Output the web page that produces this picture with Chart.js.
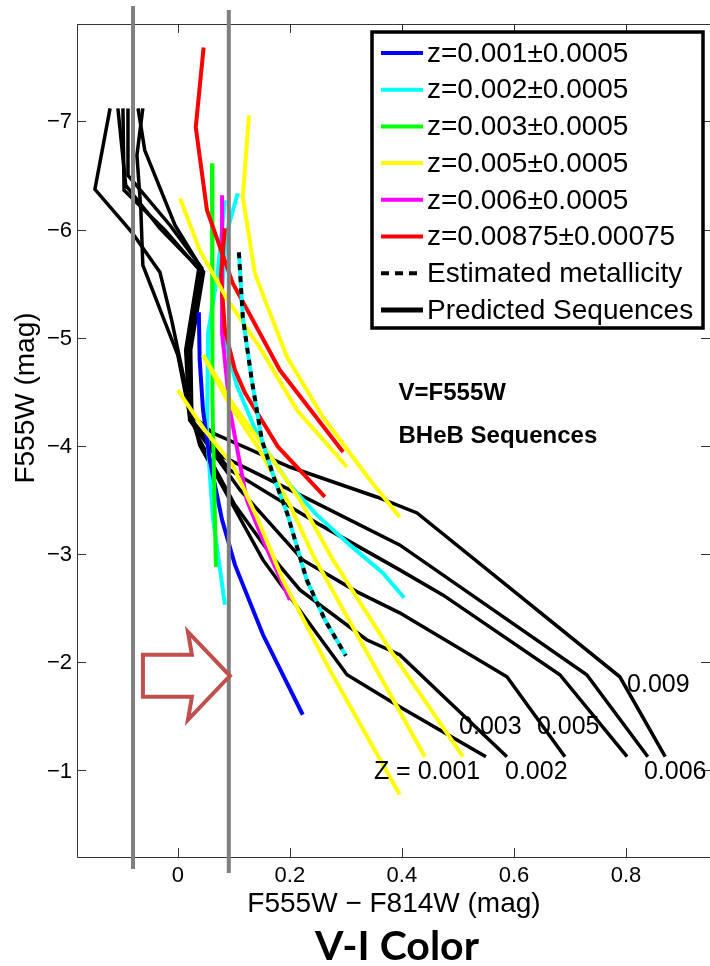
<!DOCTYPE html>
<html>
<head>
<meta charset="utf-8">
<script src="https://cdn.jsdelivr.net/npm/chart.js@4.4.0/dist/chart.umd.min.js"></script>
<style>
  body { margin: 0; background: #fff; }
  #wrap { width: 710px; height: 966px; position: relative; }
</style>
</head>
<body>
<div id="wrap"><canvas id="cmd"></canvas></div>
<script>
// axis ticks
const xTicks = [0, 0.2, 0.4, 0.6, 0.8];
const yTicks = [-7, -6, -5, -4, -3, -2, -1];

// predicted sequences (black)
const bk1X = [-0.121, -0.148, -0.082, -0.032, -0.011, 0.004, 0.025, 0.039, 0.093, 0.152, 0.2, 0.302, 0.396, 0.55];
const bk1Y = [-7.12, -6.372, -5.975, -5.606, -5.162, -4.793, -4.285, -4.008, -3.5, -2.946, -2.605, -1.885, -1.589, -1.127];
const bk2X = [-0.0625, -0.073, -0.066, -0.0625, 0, 0.021, 0.039, 0.102, 0.173, 0.218, 0.337, 0.396, 0.5875];
const bk2Y = [-7.12, -6.686, -6.178, -5.67, -4.839, -4.285, -4.054, -3.454, -2.946, -2.669, -2.208, -2.07, -1.127];
const bk3X = [-0.107, -0.093, -0.032, 0.0375, 0.014, 0.021, 0.034, 0.111, 0.223, 0.32, 0.396, 0.5875, 0.691];
const bk3Y = [-7.12, -6.409, -6.012, -5.643, -4.886, -4.239, -4.147, -3.593, -2.946, -2.651, -2.457, -1.866, -1.127];
const bk4X = [-0.098, -0.096, -0.023, 0.039, 0.016, 0.025, 0.03, 0.093, 0.254, 0.396, 0.473, 0.682, 0.802];
const bk4Y = [-7.12, -6.363, -5.994, -5.624, -4.886, -4.239, -4.193, -3.777, -3.27, -2.854, -2.623, -1.885, -1.127];
const bk5X = [-0.089, -0.089, -0.014, 0.043, 0.02, 0.025, 0.075, 0.218, 0.396, 0.73, 0.839];
const bk5Y = [-7.12, -6.501, -6.04, -5.643, -4.932, -4.239, -3.916, -3.547, -3.085, -1.885, -1.127];
const bk6X = [-0.071, -0.059, -0.005, 0.046, 0.023, 0.025, 0.0625, 0.2, 0.355, 0.427, 0.789, 0.87];
const bk6Y = [-7.12, -6.732, -6.04, -5.606, -4.886, -4.285, -4.119, -3.805, -3.528, -3.38, -1.866, -1.127];

// observed BHeB sequences
const blueX = [0.0375, 0.039, 0.045, 0.057, 0.079, 0.102, 0.152, 0.223];
const blueY = [-5.236, -4.793, -4.331, -3.87, -3.316, -2.9, -2.254, -1.515];
const cyan1X = [0.084, 0.071, 0.054, 0.052, 0.0625, 0.084];
const cyan1Y = [-6.271, -5.597, -5.042, -4.119, -3.343, -2.531];
const cyan2X = [0.107, 0.086, 0.079, 0.084, 0.105, 0.146, 0.2, 0.248, 0.307, 0.366, 0.404];
const cyan2Y = [-6.335, -5.947, -5.44, -4.978, -4.562, -4.054, -3.639, -3.362, -3.085, -2.826, -2.596];
const greenX = [0.061, 0.061, 0.0625, 0.068];
const greenY = [-6.612, -5.809, -4.424, -2.882];
const magX = [0.079, 0.079, 0.079, 0.093, 0.123, 0.152, 0.2];
const magY = [-6.317, -5.652, -5.042, -4.331, -3.5, -3.131, -2.577];
const redAX = [0.046, 0.032, 0.052, 0.098, 0.134, 0.182, 0.295];
const redAY = [-7.683, -6.945, -6.178, -5.504, -5.162, -4.701, -3.944];
const redBX = [0.084, 0.077, 0.084, 0.102, 0.12, 0.179, 0.2625];
const redBY = [-6.012, -5.578, -5.07, -4.701, -4.488, -3.99, -3.528];
const yelAX = [0.127, 0.116, 0.1375, 0.159, 0.195, 0.259, 0.343, 0.396];
const yelAY = [-7.055, -6.298, -5.597, -5.301, -4.821, -4.267, -3.685, -3.343];
const yelBX = [0.004, 0.039, 0.089, 0.146, 0.2125, 0.302];
const yelBY = [-6.289, -5.809, -5.347, -4.913, -4.331, -3.805];
const yelCX = [0.045, 0.093, 0.146, 0.2, 0.241, 0.325, 0.441];
const yelCY = [-4.839, -4.378, -3.962, -3.454, -2.993, -2.208, -1.127];
const yelDX = [0, 0.048, 0.098, 0.141, 0.1875, 0.271, 0.396];
const yelDY = [-4.516, -4.147, -3.824, -3.343, -2.762, -1.931, -0.777];
const yelEX = [0.045, 0.096, 0.155, 0.218, 0.277, 0.379, 0.509];
const yelEY = [-4.839, -4.405, -3.981, -3.5, -2.946, -2.115, -1.127];
// estimated metallicity
const estX = [0.109, 0.116, 0.132, 0.15, 0.173, 0.195, 0.23, 0.2625, 0.3];
const estY = [-5.79, -5.19, -4.608, -4.054, -3.685, -3.38, -2.762, -2.392, -2.06];

// vertical colour cuts
const cutX = [-0.08, 0.091];

// legend
const legendNames = ['z=0.001\u00b10.0005', 'z=0.002\u00b10.0005', 'z=0.003\u00b10.0005', 'z=0.005\u00b10.0005',
  'z=0.006\u00b10.0005', 'z=0.00875\u00b10.00075', 'Estimated metallicity', 'Predicted Sequences'];
const legendColors = ['#0000ff', '#00ffff', '#00ff00', '#ffff00', '#ff00ff', '#ff0000', '#000000', '#000000'];

// Z labels along the predicted sequences
const zLabels = ['0.009', '0.003', '0.005', 'Z = 0.001', '0.002', '0.006'];
const zLabelX = [0.802, 0.502, 0.641, 0.35, 0.584, 0.832];
const zLabelY = [-1.79, -1.40, -1.40, -0.985, -0.985, -0.985];

function pts(xs, ys) {
  return xs.map((x, i) => ({ x: x, y: ys[i] }));
}

function seq(label, xs, ys, color, width, order, dash) {
  return {
    label: label,
    data: pts(xs, ys),
    showLine: true,
    borderColor: color,
    borderWidth: width,
    borderDash: dash || [],
    pointRadius: 0,
    fill: false,
    tension: 0,
    order: order
  };
}

const datasets = [
  seq('bk1', bk1X, bk1Y, '#000', 3.5, 10),
  seq('bk2', bk2X, bk2Y, '#000', 3.5, 10),
  seq('bk3', bk3X, bk3Y, '#000', 3.5, 10),
  seq('bk4', bk4X, bk4Y, '#000', 3.5, 10),
  seq('bk5', bk5X, bk5Y, '#000', 3.5, 10),
  seq('bk6', bk6X, bk6Y, '#000', 3.5, 10),
  seq('cyan1', cyan1X, cyan1Y, '#00ffff', 4, 7),
  seq('cyan2', cyan2X, cyan2Y, '#00ffff', 4, 7),
  seq('blue', blueX, blueY, '#0000ff', 4, 6),
  seq('green', greenX, greenY, '#00ff00', 4, 5),
  seq('magenta', magX, magY, '#ff00ff', 4, 4),
  seq('redA', redAX, redAY, '#ff0000', 4, 3),
  seq('redB', redBX, redBY, '#ff0000', 4, 3),
  seq('yelA', yelAX, yelAY, '#ffff00', 4, 2),
  seq('yelB', yelBX, yelBY, '#ffff00', 4, 2),
  seq('yelC', yelCX, yelCY, '#ffff00', 4, 2),
  seq('yelD', yelDX, yelDY, '#ffff00', 4, 2),
  seq('yelE', yelEX, yelEY, '#ffff00', 4, 2),
  seq('estCyan', estX, estY, '#00ffff', 4, 1),
  seq('estDash', estX, estY, '#000', 4, 0, [6, 6])
];

const FONT = "'Liberation Sans', Arial, sans-serif";

const overlay = {
  id: 'overlay',
  beforeDatasetsDraw(chart) {
    const { ctx, chartArea: a, scales: { x, y } } = chart;
    ctx.save();
    ctx.strokeStyle = '#333';
    ctx.lineWidth = 1;
    ctx.beginPath();
    ctx.moveTo(a.left + 0.5, a.top + 0.5);
    ctx.lineTo(a.right, a.top + 0.5);
    ctx.moveTo(a.left + 0.5, a.top);
    ctx.lineTo(a.left + 0.5, a.bottom + 0.5);
    ctx.lineTo(a.right, a.bottom + 0.5);
    xTicks.forEach(v => {
      const px = Math.round(x.getPixelForValue(v)) + 0.5;
      ctx.moveTo(px, a.bottom); ctx.lineTo(px, a.bottom - 9);
      ctx.moveTo(px, a.top); ctx.lineTo(px, a.top + 9);
    });
    yTicks.forEach(v => {
      const py = Math.round(y.getPixelForValue(v)) + 0.5;
      ctx.moveTo(a.left, py); ctx.lineTo(a.left + 9, py);
      ctx.moveTo(a.right, py); ctx.lineTo(a.right - 9, py);
    });
    ctx.stroke();

    // tick labels
    ctx.fillStyle = '#000';
    ctx.font = '22px ' + FONT;
    ctx.textBaseline = 'middle';
    ctx.textAlign = 'center';
    xTicks.forEach(v => ctx.fillText(String(v), x.getPixelForValue(v), a.bottom + 19));
    ctx.textAlign = 'right';
    yTicks.forEach(v => ctx.fillText('\u2212' + Math.abs(v), a.left - 5, y.getPixelForValue(v) + 1));
    ctx.restore();
  },
  afterDatasetsDraw(chart) {
    const { ctx, chartArea: a, scales: { x, y } } = chart;
    ctx.save();
    // grey colour cuts
    ctx.strokeStyle = '#808080';
    ctx.lineWidth = 4;
    ctx.beginPath();
    ctx.moveTo(x.getPixelForValue(cutX[0]), a.top - 18);
    ctx.lineTo(x.getPixelForValue(cutX[0]), a.bottom + 12);
    ctx.moveTo(x.getPixelForValue(cutX[1]), a.top - 14);
    ctx.lineTo(x.getPixelForValue(cutX[1]), a.bottom + 16);
    ctx.stroke();

    // hollow arrow pointing at the red-edge cut
    const tx = x.getPixelForValue(0.093), ty = y.getPixelForValue(-1.875);
    const arrow = [[-87, -21], [-38, -21], [-42, -44], [0, 0], [-42, 44], [-38, 21], [-87, 21]];
    ctx.beginPath();
    arrow.forEach((p, i) => (i ? ctx.lineTo(tx + p[0], ty + p[1]) : ctx.moveTo(tx + p[0], ty + p[1])));
    ctx.closePath();
    ctx.fillStyle = '#fff';
    ctx.fill();
    ctx.strokeStyle = '#c0504d';
    ctx.lineWidth = 4;
    ctx.lineJoin = 'miter';
    ctx.stroke();

    // sequence labels
    ctx.fillStyle = '#000';
    ctx.font = '25px ' + FONT;
    ctx.textBaseline = 'middle';
    ctx.textAlign = 'left';
    zLabels.forEach((t, i) => ctx.fillText(t, x.getPixelForValue(zLabelX[i]), y.getPixelForValue(zLabelY[i])));

    ctx.font = 'bold 24px ' + FONT;
    ctx.fillText('V=F555W', x.getPixelForValue(0.394), y.getPixelForValue(-4.49));
    ctx.fillText('BHeB Sequences', x.getPixelForValue(0.394), y.getPixelForValue(-4.09));
    ctx.restore();
  },
  afterDraw(chart) {
    const { ctx } = chart;
    ctx.save();
    // legend box
    const L = 372, T = 32, R = 703, B = 328;
    ctx.fillStyle = '#fff';
    ctx.fillRect(L, T, R - L, B - T);
    ctx.strokeStyle = '#000';
    ctx.lineWidth = 3.5;
    ctx.strokeRect(L, T, R - L, B - T);
    ctx.font = '28px ' + FONT;
    ctx.textBaseline = 'middle';
    ctx.textAlign = 'left';
    legendNames.forEach((name, i) => {
      const cy = 53 + i * 36.7;
      ctx.beginPath();
      ctx.strokeStyle = legendColors[i];
      ctx.lineWidth = i === 7 ? 5 : 4;
      ctx.setLineDash(i === 6 ? [8, 6] : []);
      ctx.moveTo(381, cy);
      ctx.lineTo(423, cy);
      ctx.stroke();
      ctx.setLineDash([]);
      ctx.fillStyle = '#000';
      ctx.fillText(name, 427, cy + 1);
    });

    // axis titles
    ctx.fillStyle = '#000';
    ctx.font = '28px ' + FONT;
    ctx.textAlign = 'center';
    ctx.fillText('F555W \u2212 F814W (mag)', 394, 904);
    ctx.save();
    ctx.translate(26, 398);
    ctx.rotate(-Math.PI / 2);
    ctx.fillText('F555W (mag)', 0, 0);
    ctx.restore();

    ctx.font = "bold 41px Lato, 'Open Sans', sans-serif";
    ctx.textBaseline = 'alphabetic';
    ctx.fillText('V-I Color', 397, 960);
    ctx.restore();
  }
};

Chart.defaults.font.family = FONT;
Chart.defaults.color = '#000';

new Chart(document.getElementById('cmd'), {
  type: 'scatter',
  data: { datasets: datasets },
  options: {
    responsive: true,
    maintainAspectRatio: false,
    animation: false,
    layout: { padding: { top: 24, right: 0, left: 0, bottom: 0 } },
    plugins: {
      legend: { display: false },
      tooltip: { enabled: false }
    },
    scales: {
      x: {
        type: 'linear',
        min: -0.18,
        max: 0.95,
        grid: { display: false },
        border: { display: false },
        ticks: { display: false },
        afterBuildTicks: s => { s.ticks = xTicks.map(v => ({ value: v })); },
        afterFit: s => { s.height = 109; }
      },
      y: {
        type: 'linear',
        reverse: true,
        min: -7.9,
        max: -0.2,
        grid: { display: false },
        border: { display: false },
        ticks: { display: false },
        afterBuildTicks: s => { s.ticks = yTicks.map(v => ({ value: v })); },
        afterFit: s => { s.width = 77; }
      }
    }
  },
  plugins: [overlay]
});
</script>
</body>
</html>
